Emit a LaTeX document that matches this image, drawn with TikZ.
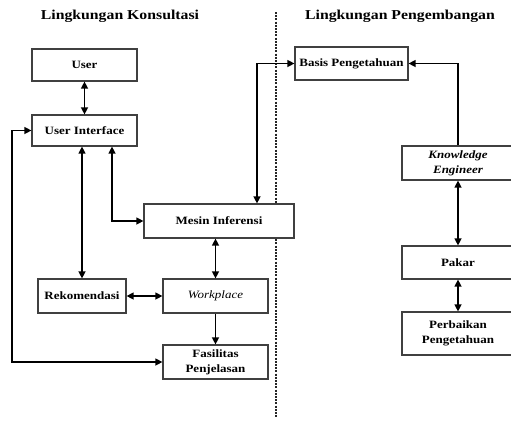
\documentclass[tikz,border=0pt]{standalone}
\usepackage{fontspec}
\setmainfont{Liberation Serif}[FakeStretch=1.16]
\usetikzlibrary{arrows.meta}
\begin{document}
\begin{tikzpicture}[x=1pt,y=-1pt,
  blk/.style={draw=black!75,line width=1.2pt,fill=white,inner sep=0pt,
    font=\fontsize{11.2}{15}\selectfont\bfseries,align=center},
  ttl/.style={font=\fontsize{13.6}{15}\selectfont\bfseries},
  conn/.style={line width=1.3pt,black,{Triangle[length=7pt,width=7pt]}-{Triangle[length=7pt,width=7pt]}},
  conr/.style={line width=1.3pt,black,-{Triangle[length=7pt,width=7pt]}}]
\useasboundingbox (0,0) rectangle (511,421);
\fill[white] (0,0) rectangle (511,421);
% titles
\node[ttl] (t1) at (120,16) {Lingkungan Konsultasi};
\node[ttl] (t2) at (400,16) {Lingkungan Pengembangan};
% separator
\coordinate (sa) at (276,12);
\coordinate (sb) at (276,418);
\draw[line width=1.1pt,black!85,dash pattern=on 2pt off 1.2pt] (sa) -- (sb);
% boxes
\node[blk,minimum width=105pt,minimum height=32pt] (user) at (84.5,65) {User};
\node[blk,minimum width=105pt,minimum height=31pt] (ui) at (84.5,130.5) {User Interface};
\node[blk,minimum width=113pt,minimum height=33pt] (basis) at (351.5,63.5) {Basis Pengetahuan};
\node[blk,minimum width=150pt,minimum height=34pt] (mesin) at (219,221) {Mesin Inferensi};
\node[blk,minimum width=88pt,minimum height=34pt] (rek) at (82,296) {Rekomendasi};
\node[blk,minimum width=105pt,minimum height=34pt,font=\fontsize{11.2}{15}\selectfont\itshape] (work) at (215.5,296) {Workplace};
\node[blk,minimum width=105pt,minimum height=34pt] (fas) at (215.5,362) {Fasilitas\\Penjelasan};
\node[blk,minimum width=112pt,minimum height=34pt,font=\fontsize{11.2}{15}\selectfont\bfseries\itshape] (ke) at (458,163) {Knowledge\\Engineer};
\node[blk,minimum width=112pt,minimum height=33pt] (pakar) at (458,262.5) {Pakar};
\node[blk,minimum width=112pt,minimum height=43pt] (perb) at (458,333.5) {Perbaikan\\Pengetahuan};
% connectors
\draw[conn] (user) -- (ui);
\draw[conn] (ui.south -| rek.north) -- (rek.north);
\draw[conn] ([xshift=27.5pt]ui.south) |- (mesin.west);
\draw[conn] ([xshift=38pt]mesin.north) |- (basis.west);
\draw[conr] (ke.north) |- (basis.east);
\draw[conn] (ke) -- (pakar);
\draw[conn] (pakar) -- (perb);
\draw[conn] (mesin.south -| work.north) -- (work.north);
\draw[conn] (rek) -- (work);
\draw[conr] (work) -- (fas);
\coordinate (lp) at (12,0);
\draw[conn] (fas.west) -- (fas.west -| lp) -- (ui.west -| lp) -- (ui.west);
\end{tikzpicture}
\end{document}
